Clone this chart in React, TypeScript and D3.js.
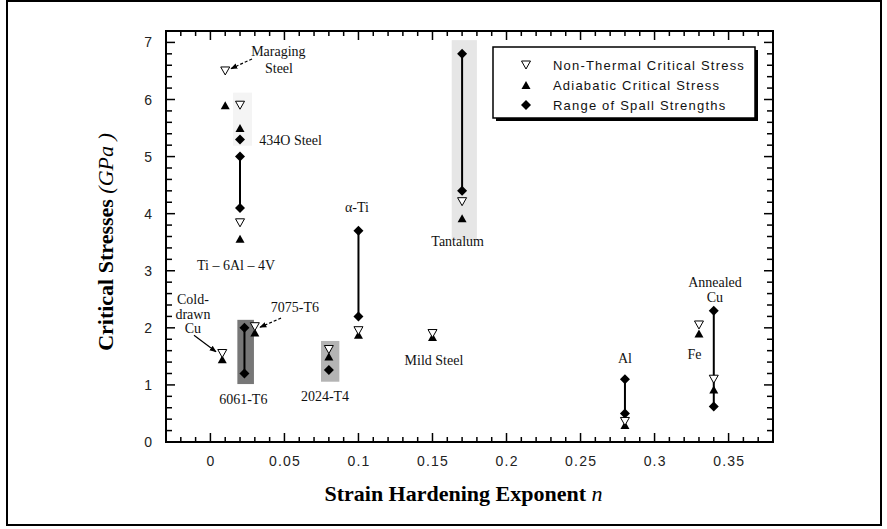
import React from "react";
import * as d3 from "d3";

// Strain hardening exponent n for each material
const nonThermal: [number, number][] = [
  [0.01, 6.5], // Maraging steel
  [0.02, 5.9], // 4340 steel
  [0.02, 3.84], // Ti-6Al-4V
  [0.17, 4.21], // Tantalum
  [0.1, 1.95], // alpha-Ti
  [0.15, 1.9], // Mild steel
  [0.08, 1.62], // 2024-T4
  [0.03, 2.02], // 7075-T6
  [0.008, 1.55], // Cold-drawn Cu
  [0.28, 0.36], // Al
  [0.33, 2.05], // Fe
  [0.34, 1.1], // Annealed Cu
];

const adiabatic: [number, number][] = [
  [0.01, 5.9],
  [0.02, 5.5],
  [0.02, 3.56],
  [0.17, 3.92],
  [0.1, 1.88],
  [0.15, 1.84],
  [0.08, 1.5],
  [0.03, 1.92],
  [0.008, 1.45],
  [0.28, 0.3],
  [0.33, 1.9],
  [0.34, 0.92],
];

// Spall strength ranges: [n, low, high]
const spall: [number, number, number][] = [
  [0.02, 5.3, 5.3], // 4340 steel
  [0.02, 4.1, 5.0], // Ti-6Al-4V
  [0.17, 4.4, 6.8], // Tantalum
  [0.1, 2.2, 3.7], // alpha-Ti
  [0.023, 1.2, 2.0], // 6061-T6
  [0.08, 1.26, 1.26], // 2024-T4
  [0.28, 0.5, 1.1], // Al
  [0.34, 0.62, 2.3], // Annealed Cu
];

// Shaded bands: [x0, x1, y0, y1, fill]
const bands: [number, number, number, number, string][] = [
  [0.0153, 0.0281, 5.19, 6.12, "#f4f4f4"],
  [0.163, 0.18, 3.53, 7.04, "#e6e6e6"],
  [0.0182, 0.0294, 1.015, 2.14, "#777777"],
  [0.0747, 0.0871, 1.056, 1.77, "#b4b4b4"],
];

// Material labels: [text, x, y, anchor]
const labels: [string, number, number, string][] = [
  ["Maraging", 0.0459, 6.84, "middle"],
  ["Steel", 0.0463, 6.55, "middle"],
  ["434O Steel", 0.033, 5.28, "start"],
  ["Ti \u2013 6Al \u2013 4V", 0.0173, 3.1, "middle"],
  ["\u03b1-Ti", 0.099, 4.1, "middle"],
  ["Tantalum", 0.167, 3.51, "middle"],
  ["Cold-", -0.0118, 2.49, "middle"],
  ["drawn", -0.0118, 2.24, "middle"],
  ["Cu", -0.0118, 1.99, "middle"],
  ["7075-T6", 0.0571, 2.36, "middle"],
  ["6061-T6", 0.0222, 0.75, "middle"],
  ["2024-T4", 0.0774, 0.79, "middle"],
  ["Mild Steel", 0.151, 1.42, "middle"],
  ["Al", 0.28, 1.47, "middle"],
  ["Fe", 0.327, 1.54, "middle"],
  ["Annealed", 0.3408, 2.8, "middle"],
  ["Cu", 0.3408, 2.54, "middle"],
];

// Pointer arrows: [x0, y0, x1, y1, dashed]
const arrows: [number, number, number, number, boolean][] = [
  [0.0281, 6.71, 0.0139, 6.54, true],
  [0.0477, 2.17, 0.0335, 2.01, true],
  [-0.0111, 1.87, 0.0038, 1.58, false],
];

const xMajor = [0, 0.05, 0.1, 0.15, 0.2, 0.25, 0.3, 0.35];
const yMajor = [0, 1, 2, 3, 4, 5, 6, 7];
const legendItems = [
  "Non-Thermal Critical Stress",
  "Adiabatic Critical Stress",
  "Range of Spall Strengths",
];

const W = 887;
const H = 529;

const x = d3.scaleLinear().domain([-0.03, 0.38]).range([166, 773]);
const y = d3.scaleLinear().domain([0, 7.2]).range([442, 31]);

const xMinor = d3.range(-3, 39).map((i) => i / 100);
const yMinor = d3.range(0, 37).map((i) => i / 5);

const downTri = (cx: number, cy: number) =>
  `M${cx - 4.5},${cy - 4}L${cx + 4.5},${cy - 4}L${cx},${cy + 4}Z`;
const upTri = (cx: number, cy: number) =>
  `M${cx - 4.5},${cy + 4}L${cx + 4.5},${cy + 4}L${cx},${cy - 4}Z`;
const diamond = (cx: number, cy: number) =>
  `M${cx},${cy - 5}L${cx + 5},${cy}L${cx},${cy + 5}L${cx - 5},${cy}Z`;

const serif = "'Liberation Serif', 'Times New Roman', serif";
const sans = "'Liberation Sans', Arial, Helvetica, sans-serif";

function isMajor(v: number, majors: number[]) {
  return majors.some((m) => Math.abs(m - v) < 1e-6);
}

export default function App() {
  const [x0, x1] = x.range();
  const [yb, yt] = y.range();
  const lx = 493;
  const ly = 47;
  const lw = 262;
  const lh = 71;

  return (
    <svg
      width={W}
      height={H}
      style={{ position: "absolute", left: 0, top: 0, background: "#fff" }}
    >
      <defs>
        <marker
          id="arrowHead"
          viewBox="0 0 10 10"
          refX="9"
          refY="5"
          markerWidth="7"
          markerHeight="7"
          markerUnits="userSpaceOnUse"
          orient="auto"
        >
          <path d="M0,1L10,5L0,9Z" fill="#000" />
        </marker>
      </defs>
      {/* figure frame */}
      <rect x={7} y={1} width={874} height={524} fill="none" stroke="#000" strokeWidth={2} />

      {/* shaded bands */}
      {bands.map(([a, b, c, d, f], i) => (
        <rect
          key={"band" + i}
          x={x(a)}
          y={y(d)}
          width={x(b) - x(a)}
          height={y(c) - y(d)}
          fill={f}
        />
      ))}

      {/* spall range lines */}
      {spall.map(([n, lo, hi], i) => (
        <line
          key={"sl" + i}
          x1={x(n)}
          x2={x(n)}
          y1={y(lo)}
          y2={y(hi)}
          stroke="#000"
          strokeWidth={2}
        />
      ))}
      {spall.map(([n, lo, hi], i) => (
        <g key={"sd" + i}>
          <path d={diamond(x(n), y(lo))} fill="#000" />
          {hi !== lo && <path d={diamond(x(n), y(hi))} fill="#000" />}
        </g>
      ))}

      {/* adiabatic critical stress */}
      {adiabatic.map(([n, v], i) => (
        <path key={"ad" + i} d={upTri(x(n), y(v))} fill="#000" />
      ))}
      {/* non-thermal critical stress */}
      {nonThermal.map(([n, v], i) => (
        <path
          key={"nt" + i}
          d={downTri(x(n), y(v))}
          fill="#fff"
          stroke="#000"
          strokeWidth={1}
        />
      ))}

      {/* arrows */}
      {arrows.map(([a, b, c, d, dashed], i) => (
        <line
          key={"ar" + i}
          x1={x(a)}
          y1={y(b)}
          x2={x(c)}
          y2={y(d)}
          stroke="#000"
          strokeWidth={1.2}
          strokeDasharray={dashed ? "3,2" : undefined}
          markerEnd="url(#arrowHead)"
        />
      ))}

      {/* material labels */}
      {labels.map(([t, a, b, anchor], i) => (
        <text
          key={"lab" + i}
          x={x(a)}
          y={y(b)}
          textAnchor={anchor as any}
          dominantBaseline="central"
          fontFamily={serif}
          fontSize={14}
          fill="#111"
        >
          {t}
        </text>
      ))}

      {/* axes frame */}
      <rect
        x={x0}
        y={yt}
        width={x1 - x0}
        height={yb - yt}
        fill="none"
        stroke="#000"
        strokeWidth={2}
      />
      {xMinor.map((v) => {
        const len = isMajor(v, xMajor) ? 9 : 5;
        return (
          <g key={"xt" + v}>
            <line x1={x(v)} x2={x(v)} y1={yb} y2={yb - len} stroke="#000" strokeWidth={1.5} />
            <line x1={x(v)} x2={x(v)} y1={yt} y2={yt + len} stroke="#000" strokeWidth={1.5} />
          </g>
        );
      })}
      {yMinor.map((v) => {
        const len = isMajor(v, yMajor) ? 9 : 6;
        return (
          <g key={"yt" + v}>
            <line x1={x0} x2={x0 + len} y1={y(v)} y2={y(v)} stroke="#000" strokeWidth={1.5} />
            <line x1={x1} x2={x1 - len} y1={y(v)} y2={y(v)} stroke="#000" strokeWidth={1.5} />
          </g>
        );
      })}
      {xMajor.map((v) => (
        <text
          key={"xl" + v}
          x={x(v) + 0.6}
          y={yb + 19}
          textAnchor="middle"
          dominantBaseline="central"
          fontFamily={sans}
          fontSize={14}
          letterSpacing={1.2}
          fill="#222"
        >
          {String(v)}
        </text>
      ))}
      {yMajor.map((v) => (
        <text
          key={"yl" + v}
          x={x0 - 14}
          y={y(v)}
          textAnchor="end"
          dominantBaseline="central"
          fontFamily={sans}
          fontSize={14}
          fill="#222"
        >
          {String(v)}
        </text>
      ))}

      {/* axis titles */}
      <text
        x={(x0 + x1) / 2 - 6}
        y={501}
        textAnchor="middle"
        fontFamily={serif}
        fontSize={22}
        fontWeight="bold"
      >
        Strain Hardening Exponent{" "}
        <tspan fontStyle="italic" fontWeight="normal">
          n
        </tspan>
      </text>
      <text
        transform="translate(113,242) rotate(-90)"
        textAnchor="middle"
        fontFamily={serif}
        fontSize={22}
        fontWeight="bold"
      >
        Critical Stresses{" "}
        <tspan fontStyle="italic" fontWeight="normal">
          (GPa )
        </tspan>
      </text>

      {/* legend */}
      <rect x={lx + 3} y={ly + 3} width={lw} height={lh} fill="#000" />
      <rect x={lx} y={ly} width={lw} height={lh} fill="#fff" stroke="#000" strokeWidth={1.5} />
      {legendItems.map((t, i) => {
        const cy = ly + 18 + i * 20;
        const cx = lx + 33;
        const sym =
          i === 0 ? (
            <path d={downTri(cx, cy)} fill="#fff" stroke="#000" strokeWidth={1} />
          ) : i === 1 ? (
            <path d={upTri(cx, cy)} fill="#000" />
          ) : (
            <path d={diamond(cx, cy)} fill="#000" />
          );
        return (
          <g key={"lg" + i}>
            {sym}
            <text
              x={lx + 60}
              y={cy}
              dominantBaseline="central"
              fontFamily={sans}
              fontSize={13}
              letterSpacing={1.2}
              fill="#111"
            >
              {t}
            </text>
          </g>
        );
      })}
    </svg>
  );
}
